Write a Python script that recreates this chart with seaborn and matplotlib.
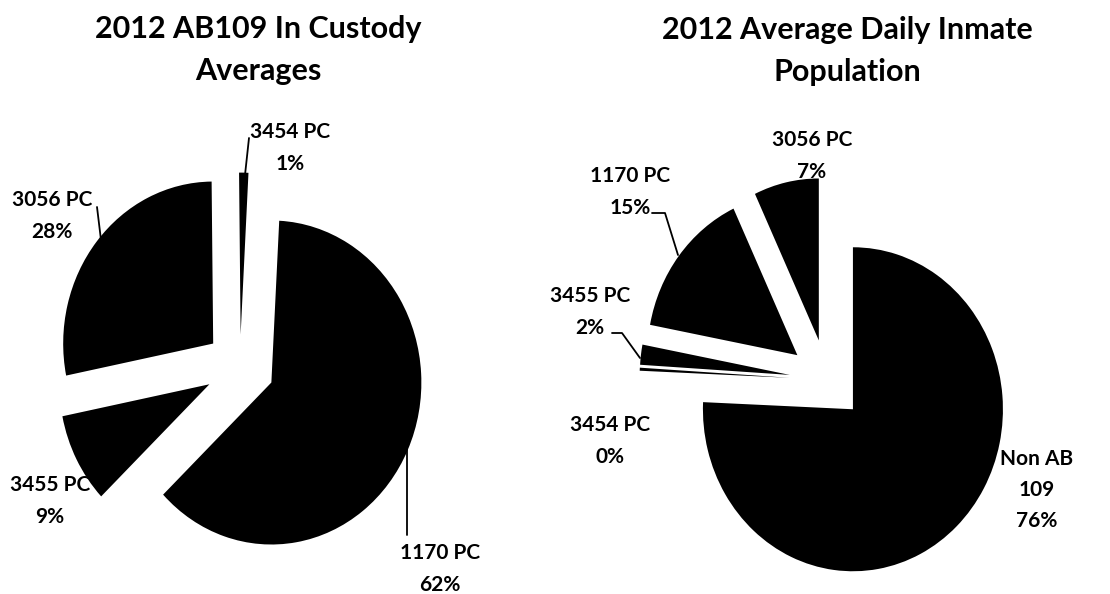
import matplotlib
matplotlib.use("Agg")
import matplotlib.pyplot as plt
from matplotlib.lines import Line2D
import seaborn as sns

# ---- data ----
left_title = "2012 AB109 In Custody\nAverages"
left_labels = ["1170 PC", "3455 PC", "3056 PC", "3454 PC"]
left_values = [62, 9, 28, 1]

right_title = "2012 Average Daily Inmate\nPopulation"
right_labels = ["Non AB\n109", "3454 PC", "3455 PC", "1170 PC", "3056 PC"]
right_values = [75.7, 0.3, 2, 15, 7]

# ---- style ----
sns.set_theme(style="white")
plt.rcParams['font.family'] = ['Lato', 'DejaVu Sans']

W, H = 1110, 594
fig = plt.figure(figsize=(W / 100, H / 100), dpi=100)
fig.patch.set_facecolor("white")

RX, RY = 150, 162  # pie radius in px (scan is slightly stretched vertically)
BOX = 230


def pie_axes(cx, cy):
    return fig.add_axes([(cx - BOX) / W, (H - cy - BOX) / H, 2 * BOX / W, 2 * BOX / H])


def fix_axes(ax):
    ax.set_aspect("auto")
    ax.set_xlim(-BOX / RX, BOX / RX)
    ax.set_ylim(-BOX / RY, BOX / RY)
    ax.axis("off")


def ftext(x, y, s, **kw):
    fig.text(x / W, 1 - y / H, s, ha="center", va="center", fontweight="bold",
             color="black", **kw)


def fline(pts):
    xs = [p[0] / W for p in pts]
    ys = [1 - p[1] / H for p in pts]
    fig.add_artist(Line2D(xs, ys, transform=fig.transFigure, color="black", lw=1.3))


def pct_labels(labels, values):
    tot = sum(values)
    return [f"{lab}\n{round(v / tot * 100)}%" for lab, v in zip(labels, values)]


# ---- left pie ----
axl = pie_axes(240, 367)
axl.pie(left_values, startangle=87, counterclock=False,
        explode=[0.23, 0.23, 0.23, 0.2], colors=["black"] * len(left_values),
        wedgeprops=dict(linewidth=0))
fix_axes(axl)

ltxt = pct_labels(left_labels, left_values)
left_pos = [(440, 569), (50, 501), (52, 216), (290, 148)]
for s, (x, y) in zip(ltxt, left_pos):
    ftext(x, y, s, fontsize=15, linespacing=1.7)
fline([(245, 175), (249, 138)])
fline([(97, 207), (101, 240)])
fline([(407, 443), (407, 535)])

ftext(258, 50, left_title, fontsize=22, linespacing=1.65)

# ---- right pie ----
axr = pie_axes(827, 380)
axr.pie(right_values, startangle=90, counterclock=False,
        explode=[0.25] * len(right_values), colors=["black"] * len(right_values),
        wedgeprops=dict(linewidth=0))
fix_axes(axr)

rtxt = pct_labels(right_labels, right_values)
right_pos = [(1037, 490), (610, 441), (590, 312), (630, 192), (812, 156)]
for s, (x, y) in zip(rtxt, right_pos):
    ftext(x, y, s, fontsize=15, linespacing=1.7)
fline([(652, 213), (665, 213), (678, 255)])
fline([(612, 333), (622, 333), (640, 358)])

ftext(847, 51, right_title, fontsize=22, linespacing=1.65)

fig.savefig("out.png", dpi=100, facecolor="white")
